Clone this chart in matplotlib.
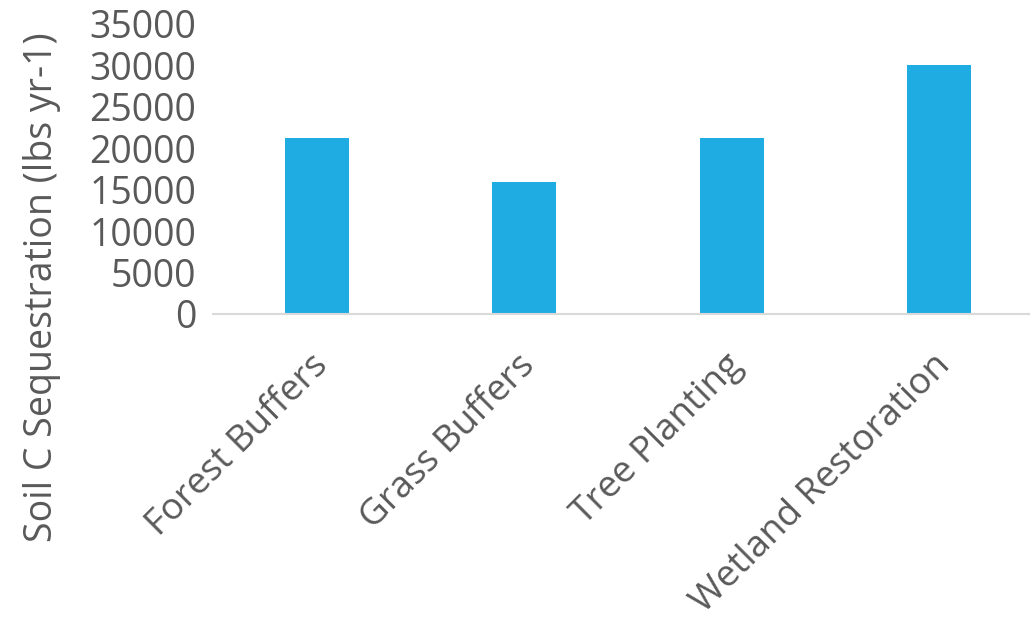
import matplotlib
matplotlib.use("Agg")
import matplotlib.pyplot as plt
import matplotlib.transforms as mtransforms
import numpy as np

categories = ["Forest Buffers", "Grass Buffers", "Tree Planting", "Wetland Restoration"]
values = [21250, 15950, 21250, 30050]
y_ticks = [0, 5000, 10000, 15000, 20000, 25000, 30000, 35000]

plt.rcParams["font.family"] = ["Open Sans", "DejaVu Sans"]
text_color = "#595959"
bar_color = "#1EACE2"
fs = 27

fig = plt.figure(figsize=(10.3, 6.19), dpi=100)
ax = fig.add_axes([213 / 1030, 305 / 619, 830 / 1030, 290 / 619])

x = np.arange(len(categories))
ax.bar(x, values, width=0.31, color=bar_color)

ax.set_xlim(-0.5, len(categories) - 0.5)
ax.set_ylim(0, 35000)
ax.set_yticks(y_ticks)
ax.set_yticklabels([str(t) for t in y_ticks], fontsize=fs, color=text_color)
ax.set_xticks(x)
ax.set_xticklabels(categories, rotation=45, ha="right", rotation_mode="anchor",
                   fontsize=26.5, color=text_color)
ax.tick_params(axis="both", length=0)
ax.tick_params(axis="y", pad=12)
ax.tick_params(axis="x", pad=24)

# nudge the slanted category labels a little to the left
shift = mtransforms.ScaledTranslation(-7 / 100, 0, fig.dpi_scale_trans)
for lab in ax.get_xticklabels():
    lab.set_transform(lab.get_transform() + shift)

for side in ["top", "right", "left"]:
    ax.spines[side].set_visible(False)
ax.spines["bottom"].set_color("#D9D9D9")
ax.spines["bottom"].set_linewidth(1.5)

ax.set_ylabel("Soil C Sequestration (lbs yr-1)", fontsize=fs, color=text_color)
ax.yaxis.set_label_coords(-0.183, 0.093)

fig.savefig("out.png", dpi=100)
